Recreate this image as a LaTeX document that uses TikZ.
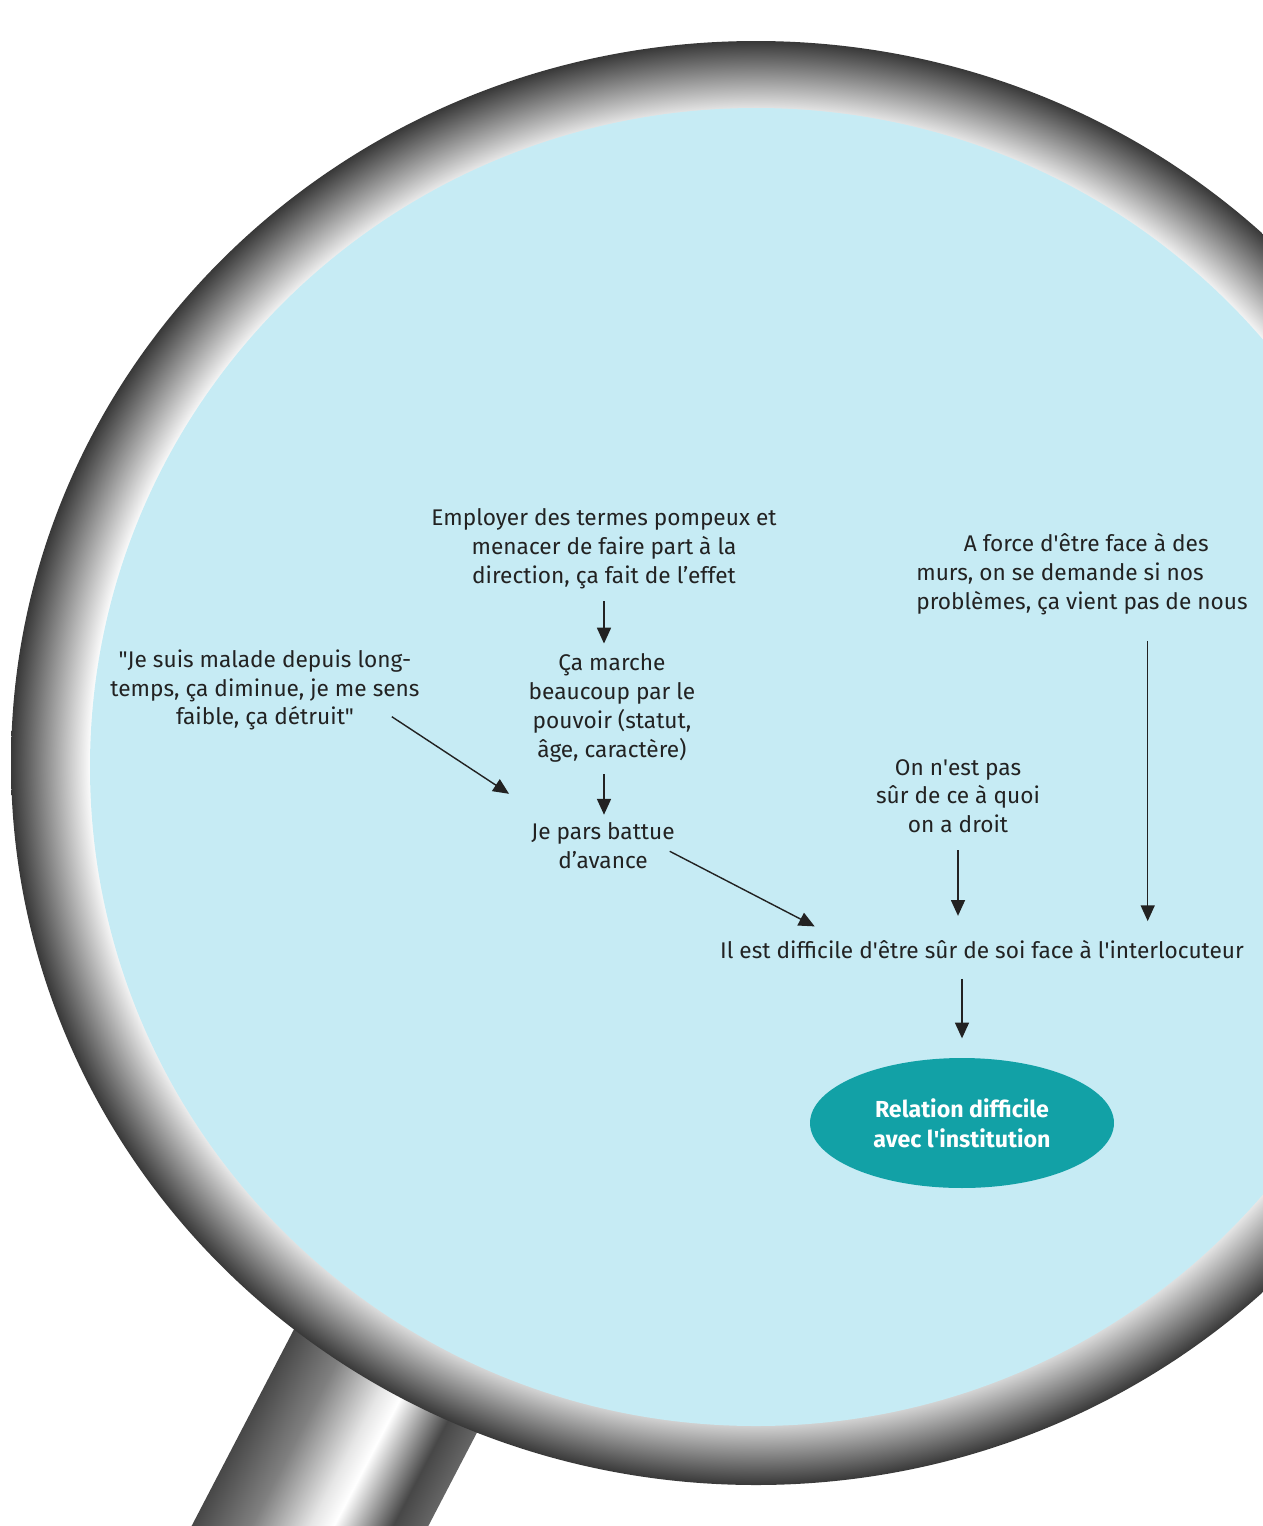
\documentclass[tikz,border=0pt]{standalone}
\usepackage{fontspec}
\setmainfont{Fira Sans}
\usetikzlibrary{arrows.meta,shapes.geometric,positioning}

\definecolor{lentille}{RGB}{198,235,244}
\definecolor{canard}{RGB}{18,161,166}
\definecolor{encre}{RGB}{34,34,34}

% metal of the ring: white on the inside, dark on the outside
\pgfdeclareradialshading{cerclage}{\pgfpoint{0bp}{0bp}}{color(0bp)=(white); color(22.3bp)=(white); color(23bp)=(black!20); color(25bp)=(black!78); color(50bp)=(black!78)}
% cylinder of the handle, across its width
\pgfdeclareverticalshading{manche}{100bp}{color(0bp)=(black!60); color(25bp)=(black!60); color(32.5bp)=(black!72); color(45bp)=(white); color(50bp)=(black!10); color(62.5bp)=(black!50); color(75bp)=(black!72); color(100bp)=(black!72)}

\begin{document}
\begin{tikzpicture}[x=0.02cm,y=-0.02cm]
\tikzstyle{texte} = [text=encre,align=center,inner sep=0pt,font=\fontsize{12.9}{16.4}\selectfont]
\tikzstyle{fleche} = [draw=encre,line width=0.8pt,-{Triangle[length=9pt,width=8pt]}]
\tikzstyle{bulle} = [ellipse,fill=canard,text=white,inner sep=0pt,minimum width=6.08cm,minimum height=2.6cm,align=center,font=\fontsize{13.2}{17}\selectfont\bfseries]

\useasboundingbox (0,0) rectangle (1263,1526);

% handle, under the ring
\begin{scope}[transform canvas={shift={(273,1597)},rotate=62.5}]
\shade[shading=manche] (0,-105) rectangle (340,105);
\end{scope}

% ring and glass
\shade[shading=cerclage] (756,763) ellipse [x radius=745, y radius=722];
\fill[lentille] (756,767) ellipse [x radius=666, y radius=659];

\node[texte] (employer) at (604,549) {Employer des termes pompeux et\\menacer de faire part à la\\direction, ça fait de l’effet};
\node[texte] (marche) at (612,708) {Ça marche\\beaucoup par le\\pouvoir (statut,\\âge, caractère)};
\node[texte] (battue) at (603,846) {Je pars battue\\d’avance};
\node[texte] (malade) at (265,690) {\textquotedbl Je suis malade depuis long-\\temps, ça diminue, je me sens\\faible, ça détruit\textquotedbl};
\node[texte,align=left] (force) at (1082,574) {\hspace*{27pt}A force d\textquotesingle être face à des\\murs, on se demande si nos\\problèmes, ça vient pas de nous};
\node[texte] (droit) at (958,796) {On n\textquotesingle est pas\\sûr de ce à quoi\\on a droit};
\node[texte] (interloc) at (982,950) {Il est difficile d\textquotesingle être sûr de soi face à l\textquotesingle interlocuteur};
\node[bulle] (relation) at (962,1123) {Relation difficile\\avec l\textquotesingle institution};

\draw[fleche,shorten <=6.8pt,shorten >=5.7pt] (employer.south) -- (employer.south |- marche.north);
\draw[fleche,shorten <=6.8pt,shorten >=4.5pt] (marche.south -| employer.south) -- (employer.south |- battue.north);
\draw[fleche] ([xshift=-16pt,yshift=8pt]malade.south east) -- ([xshift=-12.5pt,yshift=16.4pt]battue.north west);
\draw[fleche] ([xshift=-3pt,yshift=-3pt]battue.east) -- ([xshift=54pt,yshift=8pt]interloc.north west);
\draw[fleche,shorten <=9.6pt,shorten >=14pt] (droit.south) -- (droit.south |- interloc.north);
\draw[fleche,shorten <=14.7pt,shorten >=11pt] ([xshift=37.4pt]force.south) -- ([xshift=37.4pt]force.south |- interloc.north);
\draw[fleche,shorten <=11pt,shorten >=11pt] (interloc.south -| relation.north) -- (relation.north);
\end{tikzpicture}
\end{document}
